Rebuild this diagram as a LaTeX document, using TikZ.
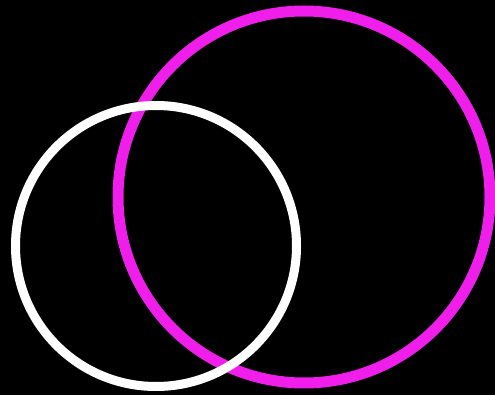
\documentclass[tikz,border=0pt]{standalone}
\usepackage{tikz}
\definecolor{ringpink}{RGB}{240,30,235}
\tikzset{
  ring/.style = {circle, inner sep=0pt, fill=none},
  pink_ring/.style = {ring, draw=ringpink, line width=11pt,
    minimum size=372pt},% grand anneau rose
  white_ring/.style = {ring, draw=white, line width=9pt,
    minimum size=281pt}% petit anneau blanc
}
\begin{document}
\begin{tikzpicture}[x=1pt, y=-1pt]
    \fill[black] (0,0) rectangle (495,395);
    \useasboundingbox (0,0) rectangle (495,395);
    \node [pink_ring] (big) at (304,197) {};
    \node [white_ring] (small) at (156,246) {};
  \end{tikzpicture}
\end{document}
